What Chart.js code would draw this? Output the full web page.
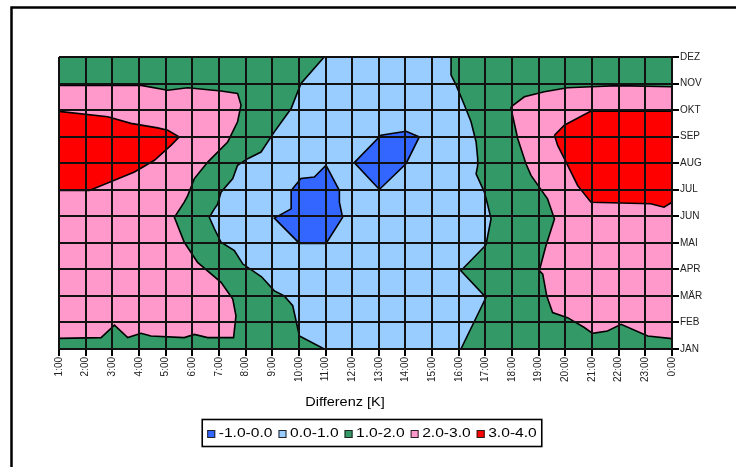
<!DOCTYPE html>
<html>
<head>
<meta charset="utf-8">
<script src="https://cdn.jsdelivr.net/npm/chart.js@4.4.1/dist/chart.umd.min.js"></script>
<style>
  html, body { margin: 0; padding: 0; background: #fff; }
  #wrap { position: relative; width: 736px; height: 467px; }
</style>
</head>
<body>
<div id="wrap"><canvas id="chart" width="736" height="467"></canvas></div>
<script>
// Axis categories
const hourLabels = ['1:00','2:00','3:00','4:00','5:00','6:00','7:00','8:00','9:00','10:00','11:00','12:00',
  '13:00','14:00','15:00','16:00','17:00','18:00','19:00','20:00','21:00','22:00','23:00','0:00'];
const monthLabels = ['JAN','FEB','MÄR','APR','MAI','JUN','JUL','AUG','SEP','OKT','NOV','DEZ'];
const bandLabels = ['-1.0-0.0','0.0-1.0','1.0-2.0','2.0-3.0','3.0-4.0'];
const axisTitle = 'Differenz [K]';

// Contour regions as [hour index, month index] vertices (band 1.0-2.0 is the background)
const blueIslandA = [[10.02,6.92],[10.52,5.97],[10.52,5.53],[10.64,4.96],[10.02,3.98],[9.02,3.98],
  [8.08,4.93],[8.71,5.28],[8.71,5.97],[9.08,6.42],[9.58,6.48]];
const blueIslandB = [[11.08,7.02],[12.08,8.05],[13.02,8.2],[13.52,7.99],[13.02,6.98],[12.02,6.01]];
const lightBlueCore = [[9.95,11],[9.08,10.0],[8.71,9.06],[8.08,8.18],[7.58,7.42],[7.08,7.17],[6.70,6.92],
  [6.52,6.42],[6.08,5.91],[5.95,5.45],[5.83,5.28],[5.64,4.96],[5.83,4.53],[6.08,4.02],[6.58,3.71],
  [6.9,3.2],[7.6,2.72],[8.08,2.19],[8.45,2.0],[8.77,1.63],[9.02,0.49],[9.95,0],[15.08,0],[16.02,1.94],
  [15.08,2.95],[16.02,3.92],[16.21,4.9],[16.09,5.41],[15.96,5.91],[15.65,6.6],[15.71,6.92],[15.71,7.17],
  [15.65,7.8],[15.46,8.56],[15.21,9.19],[14.9,9.94],[14.71,10.32],[14.71,11]];
const redLeft = [[0,8.95],[1.83,8.75],[2.70,8.50],[3.70,8.33],[4.08,8.24],[4.51,7.99],[4.20,7.67],
  [3.58,7.11],[2.83,6.67],[1.14,5.97],[0,5.97]];
const redRight = [[18.59,8.05],[18.96,8.43],[19.96,8.96],[23,8.96],[23,5.53],[22.7,5.34],[22.2,5.47],
  [19.96,5.53],[19.46,6.16],[18.96,7.17],[18.71,7.67]];
const pinkLeft = [[0,9.93],[3.08,9.93],[4.08,9.75],[4.83,9.84],[6.08,9.72],[6.70,9.63],[6.83,9.19],
  [6.70,8.56],[6.33,7.80],[5.58,7.04],[5.08,6.42],[4.83,5.78],[4.70,5.53],[4.33,4.96],[4.70,4.02],
  [5.20,3.26],[6.08,2.51],[6.52,1.88],[6.64,1.25],[6.55,0.43],[5.58,0.43],[5.08,0.55],[4.70,0.43],
  [3.45,0.49],[3.08,0.59],[2.58,0.43],[2.08,0.90],[1.58,0.43],[0,0.40]];
const pinkRight = [[16.96,9.12],[17.46,9.5],[18.21,9.69],[19.08,9.84],[19.96,9.88],[20.96,9.92],[23,9.88],
  [23,0.39],[22.09,0.49],[21.09,0.93],[20.58,0.68],[20.02,0.59],[19.71,0.81],[19.08,1.18],[18.52,1.37],
  [18.3,2.0],[18.15,2.82],[18.02,2.95],[18.27,3.89],[18.59,4.9],[18.33,5.66],[17.71,6.54],[17.52,6.98],
  [17.21,7.93],[16.96,9.06]];

// Band colours, same order as bandLabels
const bandColors = ['#3366FF', '#99CCFF', '#339966', '#FF99CC', '#FF0000'];

// Topmost region first
const regions = [
  { band: 0, pts: blueIslandA },
  { band: 0, pts: blueIslandB },
  { band: 1, pts: lightBlueCore },
  { band: 4, pts: redLeft },
  { band: 4, pts: redRight },
  { band: 3, pts: pinkLeft },
  { band: 3, pts: pinkRight }
];

const FONT = 'Arial, "Liberation Sans", sans-serif';

const datasets = regions.map((r, i) => {
  const data = r.pts.map(([x, y]) => ({ x, y }));
  data.push({ x: r.pts[0][0], y: r.pts[0][1] });
  return {
    label: bandLabels[r.band],
    data,
    showLine: true,
    fill: false,
    pointRadius: 0,
    borderColor: '#000',
    borderWidth: 1.6,
    backgroundColor: bandColors[r.band],
    order: i
  };
});

// Background band, filled polygons, frame, axis title and legend
const contourPlugin = {
  id: 'contourPlugin',
  beforeDatasetsDraw(chart) {
    const { ctx, chartArea: a } = chart;
    ctx.save();
    ctx.fillStyle = bandColors[2];
    ctx.fillRect(a.left, a.top, a.right - a.left, a.bottom - a.top);
    ctx.restore();
  },
  beforeDatasetDraw(chart, args) {
    const pts = args.meta.data;
    const ctx = chart.ctx;
    ctx.save();
    ctx.beginPath();
    pts.forEach((p, i) => (i ? ctx.lineTo(p.x, p.y) : ctx.moveTo(p.x, p.y)));
    ctx.closePath();
    ctx.fillStyle = chart.data.datasets[args.index].backgroundColor;
    ctx.fill();
    ctx.restore();
  },
  afterDraw(chart) {
    const ctx = chart.ctx;
    ctx.save();
    // outer frame
    ctx.strokeStyle = '#000';
    ctx.lineWidth = 2.5;
    ctx.beginPath();
    ctx.moveTo(11.5, 467);
    ctx.lineTo(11.5, 7.5);
    ctx.lineTo(736, 7.5);
    ctx.stroke();

    // axis title
    ctx.fillStyle = '#000';
    ctx.textBaseline = 'middle';
    ctx.textAlign = 'center';
    ctx.font = '12.5px ' + FONT;
    ctx.save();
    ctx.translate(345, 403);
    ctx.scale(1.16, 1);
    ctx.fillText(axisTitle, 0, 0);
    ctx.restore();

    // legend
    const sx = 1.2, mk = 8, gapM = 3.5, gapT = 6, pad = 5;
    ctx.font = '13px ' + FONT;
    ctx.textAlign = 'left';
    const widths = bandLabels.map(t => ctx.measureText(t).width * sx);
    const inner = widths.reduce((s, w) => s + w, 0) + bandLabels.length * (mk + gapM) + (bandLabels.length - 1) * gapT;
    const boxW = inner + 2 * pad;
    const cx = 372, top = 419.5, h = 27;
    const left = cx - boxW / 2;
    ctx.lineWidth = 1.6;
    ctx.strokeStyle = '#000';
    ctx.strokeRect(left, top, boxW, h);
    let x = left + pad;
    const my = top + h / 2;
    bandLabels.forEach((t, i) => {
      ctx.fillStyle = bandColors[i];
      ctx.fillRect(x, my - mk / 2 + 1, mk, mk);
      ctx.lineWidth = 1;
      ctx.strokeStyle = '#222';
      ctx.strokeRect(x + 0.5, my - mk / 2 + 1.5, mk - 1, mk - 1);
      x += mk + gapM;
      ctx.fillStyle = '#000';
      ctx.save();
      ctx.translate(x, my);
      ctx.scale(sx, 1);
      ctx.fillText(t, 0, 0);
      ctx.restore();
      x += widths[i] + gapT;
    });
    ctx.restore();
  }
};

new Chart(document.getElementById('chart'), {
  type: 'scatter',
  data: { datasets },
  options: {
    responsive: false,
    devicePixelRatio: 1,
    animation: false,
    events: [],
    layout: { padding: { left: 59, top: 57, right: 0, bottom: 0 } },
    plugins: { legend: { display: false }, tooltip: { enabled: false } },
    scales: {
      x: {
        type: 'linear',
        min: 0, max: 23,
        afterFit: s => { s.height = 467 - 349; },
        grid: { color: '#111', lineWidth: 2, tickLength: 7, tickColor: '#000', z: 1 },
        border: { display: true, color: '#111', width: 2, z: 1 },
        ticks: {
          stepSize: 1, autoSkip: false, maxTicksLimit: 40,
          minRotation: 90, maxRotation: 90, padding: 1,
          color: '#222', font: { family: FONT, size: 10 },
          callback: v => hourLabels[v]
        }
      },
      y: {
        type: 'linear',
        position: 'right',
        min: 0, max: 11,
        afterFit: s => { s.width = 736 - 672; },
        grid: { color: '#111', lineWidth: 2, tickLength: 7, tickColor: '#000', z: 1 },
        border: { display: true, color: '#111', width: 2, z: 1 },
        ticks: {
          stepSize: 1, autoSkip: false, maxTicksLimit: 40, padding: 1,
          color: '#222', font: { family: FONT, size: 10 },
          callback: v => monthLabels[v]
        }
      }
    }
  },
  plugins: [contourPlugin]
});
</script>
</body>
</html>
